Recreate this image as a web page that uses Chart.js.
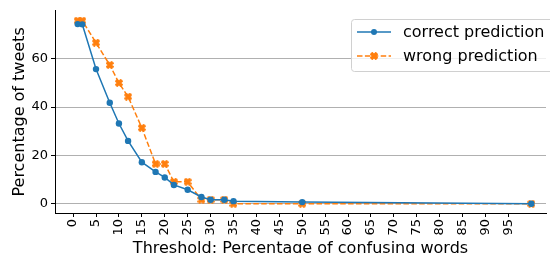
<!DOCTYPE html>
<html>
<head>
<meta charset="utf-8">
<script src="https://cdn.jsdelivr.net/npm/chart.js@4.4.1/dist/chart.umd.min.js"></script>
<style>
  html, body { margin: 0; padding: 0; background: #fff; overflow: hidden; }
</style>
</head>
<body>
<canvas id="threshold-chart" width="550" height="253"></canvas>
<script>
// thresholds (percentage of confusing words)
var thresholds = [1, 2, 5, 8, 10, 12, 15, 18, 20, 22, 25, 28, 30, 33, 35, 50, 100];
var correctPct = [74.3, 74.2, 55.7, 41.8, 33.2, 26.0, 17.2, 13.2, 10.9, 7.8, 5.8, 2.8, 1.7, 1.7, 1.1, 0.7, 0.0];
var wrongPct   = [75.7, 75.7, 66.6, 57.4, 50.0, 44.3, 31.4, 16.5, 16.5, 9.1, 9.1, 1.7, 1.7, 1.7, 0.0, 0.0, 0.0];
var xTicks = [0, 5, 10, 15, 20, 25, 30, 35, 40, 45, 50, 55, 60, 65, 70, 75, 80, 85, 90, 95];
var yTicks = [0, 20, 40, 60];
var seriesNames = ['correct prediction', 'wrong prediction'];

var BLUE = '#1f77b4';
var ORANGE = '#ff7f0e';
Chart.defaults.font.family = '"DejaVu Sans", sans-serif';
Chart.defaults.color = '#000';

// filled "X" marker like matplotlib
function makeX(color) {
    var c = document.createElement('canvas');
    c.width = 8; c.height = 8;
    var g = c.getContext('2d');
    g.strokeStyle = color;
    g.lineWidth = 3.6;
    g.beginPath();
    g.moveTo(1, 1); g.lineTo(7, 7);
    g.moveTo(7, 1); g.lineTo(1, 7);
    g.stroke();
    return c;
}
var xMarker = makeX(ORANGE);

function toPoints(xs, ys) {
    return xs.map(function (x, i) { return {x: x, y: ys[i]}; });
}

// legend box drawn inside the plot, top right
var boxLegend = {
    id: 'boxLegend',
    afterDraw: function (chart) {
        var ctx = chart.ctx;
        var x0 = 351, y0 = 19, w = 215, h = 52;
        ctx.save();
        ctx.beginPath();
        ctx.roundRect(x0 + 0.5, y0 + 0.5, w, h, 3);
        ctx.fillStyle = 'rgba(255,255,255,0.8)';
        ctx.fill();
        ctx.strokeStyle = '#d0d0d0';
        ctx.lineWidth = 1;
        ctx.stroke();
        chart.data.datasets.forEach(function (ds, i) {
            var yy = 32 + i * 24;
            ctx.beginPath();
            ctx.setLineDash(ds.borderDash || []);
            ctx.strokeStyle = ds.borderColor;
            ctx.lineWidth = ds.borderWidth;
            ctx.moveTo(357, yy); ctx.lineTo(391, yy);
            ctx.stroke();
            ctx.setLineDash([]);
            if (ds.pointStyle === 'circle') {
                ctx.beginPath();
                ctx.arc(374, yy, 3, 0, Math.PI * 2);
                ctx.fillStyle = ds.pointBackgroundColor;
                ctx.fill();
            } else {
                ctx.drawImage(ds.pointStyle, 374 - 4, yy - 4);
            }
            ctx.fillStyle = '#000';
            ctx.font = '16px "DejaVu Sans"';
            ctx.textBaseline = 'middle';
            ctx.fillText(seriesNames[i], 403, yy + 1);
        });
        ctx.restore();
    }
};

var ctx = document.getElementById('threshold-chart').getContext('2d');
var data = {
    datasets: [{
        label: seriesNames[0],
        data: toPoints(thresholds, correctPct),
        borderColor: BLUE,
        backgroundColor: BLUE,
        borderWidth: 1.5,
        pointStyle: 'circle',
        pointRadius: 3.2,
        pointBackgroundColor: BLUE,
        pointBorderWidth: 0,
        tension: 0
    }, {
        label: seriesNames[1],
        data: toPoints(thresholds, wrongPct),
        borderColor: ORANGE,
        backgroundColor: ORANGE,
        borderWidth: 1.5,
        borderDash: [5.5, 2.4],
        pointStyle: xMarker,
        pointRadius: 4,
        pointBackgroundColor: ORANGE,
        pointBorderWidth: 0,
        tension: 0
    }]
};

var options = {
    responsive: false,
    animation: false,
    events: [],
    layout: { padding: { top: 10, right: 0, left: 0, bottom: 0 } },
    plugins: {
        legend: { display: false },
        tooltip: { enabled: false }
    },
    scales: {
        x: {
            type: 'linear',
            min: -3.95,
            max: 103.2,
            afterBuildTicks: function (s) { s.ticks = xTicks.map(function (v) { return {value: v}; }); },
            afterFit: function (s) { s.height = 40; },
            ticks: {
                autoSkip: false,
                minRotation: 90,
                maxRotation: 90,
                padding: 2,
                font: { size: 13 },
                color: '#000'
            },
            grid: { drawOnChartArea: false, tickLength: 4, tickColor: '#000' },
            border: { color: '#000', width: 1 },
            title: {
                display: true,
                text: 'Threshold: Percentage of confusing words',
                font: { size: 16 },
                color: '#000',
                padding: { top: 0, bottom: -5 }
            }
        },
        y: {
            min: -3.8,
            max: 79.8,
            afterBuildTicks: function (s) { s.ticks = yTicks.map(function (v) { return {value: v}; }); },
            afterFit: function (s) { s.width = 55; },
            ticks: { padding: 3, font: { size: 13 }, color: '#000' },
            grid: { color: '#b0b0b0', lineWidth: 1, tickLength: 4, tickColor: '#000' },
            border: { color: '#000', width: 1 },
            title: {
                display: true,
                text: 'Percentage of tweets',
                font: { size: 16 },
                color: '#000',
                padding: { top: 10, bottom: 0 }
            }
        }
    }
};

var thresholdChart = new Chart(ctx, {
    type: 'line',
    data: data,
    options: options,
    plugins: [boxLegend]
});
</script>
</body>
</html>
